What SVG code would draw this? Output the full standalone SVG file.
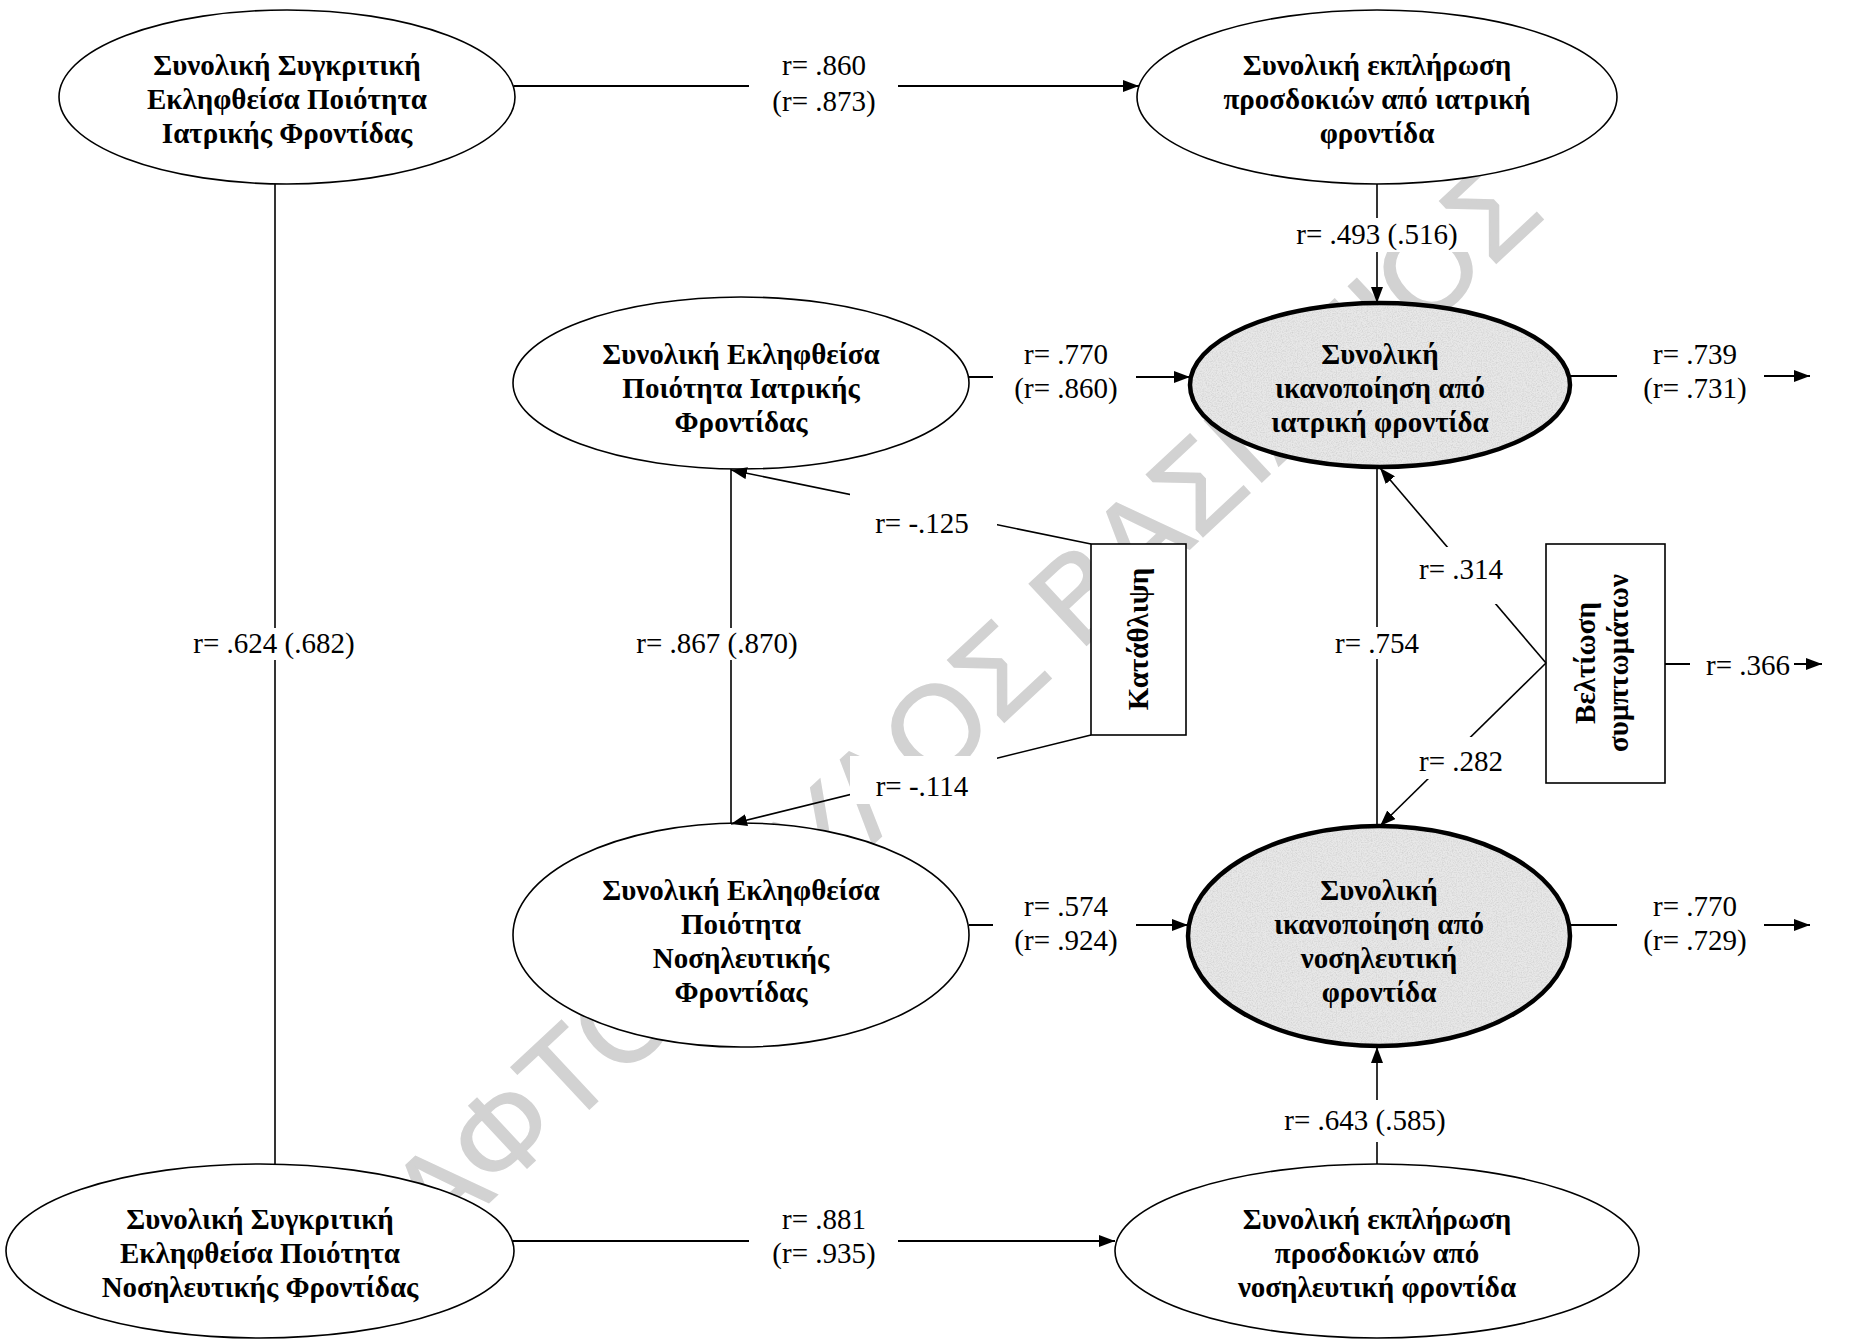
<svg xmlns="http://www.w3.org/2000/svg" width="1865" height="1343" viewBox="0 0 1865 1343">
<style>
.n{fill:#fff;stroke:#000;stroke-width:1.6}
.g{fill:#e8e8e8;stroke:none}
.gs{fill:none;stroke:#000;stroke-width:4.5}
.r{fill:#fff;stroke:#000;stroke-width:1.6}
.t{font-family:"Liberation Serif","Times New Roman",serif;font-weight:bold;font-size:29px;text-anchor:middle;fill:#000}
.l{font-family:"Liberation Serif","Times New Roman",serif;font-size:29px;text-anchor:middle;fill:#000}
.c{stroke:#000;stroke-width:1.6;fill:none}
.ch{stroke:#000;stroke-width:2.2;fill:none}
.lb{fill:#fff;stroke:none}
.wm{font-family:"Liberation Sans",Arial,sans-serif;font-size:122px;fill:#d2d2d2;stroke:#d2d2d2;stroke-width:1.5}
</style>
<defs>
<marker id="ah" viewBox="0 0 16 12" refX="16" refY="6" markerWidth="16" markerHeight="12" orient="auto" markerUnits="userSpaceOnUse">
<path d="M0,0 L16,6 L0,12 z" fill="#000"/>
</marker>
<filter id="grain" x="0" y="0" width="100%" height="100%">
<feTurbulence type="fractalNoise" baseFrequency="0.8" numOctaves="2" seed="5" result="noise"/>
<feColorMatrix in="noise" type="matrix" values="0 0 0 0 0.6  0 0 0 0 0.6  0 0 0 0 0.6  0 0 0 1.6 -0.6" result="dots"/>
<feComposite in="dots" in2="SourceGraphic" operator="in" result="d2"/>
<feMerge><feMergeNode in="SourceGraphic"/><feMergeNode in="d2"/></feMerge>
</filter>
</defs>
<rect x="0" y="0" width="1865" height="1343" fill="#fff"/>

<g id="watermark">
<text class="wm" transform="translate(438,1250) rotate(-43)">ΑΦΤΟΠΟΥΛΟΣ ΒΑΣΙΛΕΙΟΣ</text>
</g>

<g id="node-A">
<ellipse class="n" cx="287" cy="97" rx="228" ry="87"/>
<text class="t" x="287" y="75">Συνολική Συγκριτική</text>
<text class="t" x="287" y="109">Εκληφθείσα Ποιότητα</text>
<text class="t" x="287" y="143">Ιατρικής Φροντίδας</text>
</g>

<g id="node-B">
<ellipse class="n" cx="1377" cy="97" rx="240" ry="87"/>
<text class="t" x="1377" y="75">Συνολική εκπλήρωση</text>
<text class="t" x="1377" y="109">προσδοκιών από ιατρική</text>
<text class="t" x="1377" y="143">φροντίδα</text>
</g>

<g id="node-C">
<ellipse class="n" cx="741" cy="383" rx="228" ry="86"/>
<text class="t" x="741" y="364">Συνολική Εκληφθείσα</text>
<text class="t" x="741" y="398">Ποιότητα Ιατρικής</text>
<text class="t" x="741" y="432">Φροντίδας</text>
</g>

<g id="node-D">
<ellipse class="g" cx="1380" cy="385" rx="190" ry="82" filter="url(#grain)"/>
<ellipse class="gs" cx="1380" cy="385" rx="190" ry="82"/>
<text class="t" x="1380" y="364">Συνολική</text>
<text class="t" x="1380" y="398">ικανοποίηση από</text>
<text class="t" x="1380" y="432">ιατρική φροντίδα</text>
</g>

<g id="node-depression">
<rect class="r" x="1091" y="544" width="95" height="191"/>
<text class="t" transform="translate(1138,639) rotate(-90)" y="10">Κατάθλιψη</text>
</g>

<g id="node-symptoms">
<rect class="r" x="1546" y="544" width="119" height="239"/>
<text class="t" transform="translate(1585,663) rotate(-90)" y="10">Βελτίωση</text>
<text class="t" transform="translate(1618,663) rotate(-90)" y="10">συμπτωμάτων</text>
</g>

<g id="node-E">
<ellipse class="n" cx="741" cy="935" rx="228" ry="112"/>
<text class="t" x="741" y="900">Συνολική Εκληφθείσα</text>
<text class="t" x="741" y="934">Ποιότητα</text>
<text class="t" x="741" y="968">Νοσηλευτικής</text>
<text class="t" x="741" y="1002">Φροντίδας</text>
</g>

<g id="node-F">
<ellipse class="g" cx="1379" cy="936" rx="191" ry="110" filter="url(#grain)"/>
<ellipse class="gs" cx="1379" cy="936" rx="191" ry="110"/>
<text class="t" x="1379" y="900">Συνολική</text>
<text class="t" x="1379" y="934">ικανοποίηση από</text>
<text class="t" x="1379" y="968">νοσηλευτική</text>
<text class="t" x="1379" y="1002">φροντίδα</text>
</g>

<g id="node-G">
<ellipse class="n" cx="260" cy="1251" rx="254" ry="87"/>
<text class="t" x="260" y="1229">Συνολική Συγκριτική</text>
<text class="t" x="260" y="1263">Εκληφθείσα Ποιότητα</text>
<text class="t" x="260" y="1297">Νοσηλευτικής Φροντίδας</text>
</g>

<g id="node-H">
<ellipse class="n" cx="1377" cy="1251" rx="262" ry="87"/>
<text class="t" x="1377" y="1229">Συνολική εκπλήρωση</text>
<text class="t" x="1377" y="1263">προσδοκιών από</text>
<text class="t" x="1377" y="1297">νοσηλευτική φροντίδα</text>
</g>

<g id="connectors">
<line class="ch" x1="514" y1="86" x2="1139" y2="86" marker-end="url(#ah)"/>
<line class="c" x1="275" y1="184" x2="275" y2="1164"/>
<line class="c" x1="1377" y1="184" x2="1377" y2="303" marker-end="url(#ah)"/>
<line class="ch" x1="969" y1="377" x2="1190" y2="377" marker-end="url(#ah)"/>
<line class="ch" x1="1570" y1="376" x2="1810" y2="376" marker-end="url(#ah)"/>
<line class="c" x1="1091" y1="544" x2="731" y2="470" marker-end="url(#ah)"/>
<line class="c" x1="1091" y1="735" x2="731" y2="824" marker-end="url(#ah)"/>
<line class="c" x1="731" y1="469" x2="731" y2="823"/>
<line class="c" x1="1377" y1="467" x2="1377" y2="826"/>
<line class="c" x1="1546" y1="663" x2="1380" y2="468" marker-end="url(#ah)"/>
<line class="c" x1="1546" y1="663" x2="1380" y2="826" marker-end="url(#ah)"/>
<line class="ch" x1="1665" y1="664" x2="1822" y2="664" marker-end="url(#ah)"/>
<line class="ch" x1="969" y1="925" x2="1188" y2="925" marker-end="url(#ah)"/>
<line class="ch" x1="1570" y1="925" x2="1810" y2="925" marker-end="url(#ah)"/>
<line class="c" x1="1377" y1="1164" x2="1377" y2="1047" marker-end="url(#ah)"/>
<line class="ch" x1="513" y1="1241" x2="1115" y2="1241" marker-end="url(#ah)"/>

<rect class="lb" x="749" y="45" width="149" height="78"/>
<text class="l" x="824" y="75">r= .860</text>
<text class="l" x="824" y="111">(r= .873)</text>

<rect class="lb" x="188" y="628" width="174" height="32"/>
<text class="l" x="274" y="653">r= .624 (.682)</text>

<rect class="lb" x="1288" y="218" width="180" height="34"/>
<text class="l" x="1377" y="244">r= .493 (.516)</text>

<rect class="lb" x="993" y="335" width="143" height="72"/>
<text class="l" x="1066" y="364">r= .770</text>
<text class="l" x="1066" y="398">(r= .860)</text>

<rect class="lb" x="1617" y="335" width="147" height="72"/>
<text class="l" x="1695" y="364">r= .739</text>
<text class="l" x="1695" y="398">(r= .731)</text>

<rect class="lb" x="850" y="492" width="147" height="46"/>
<text class="l" x="922" y="533">r= -.125</text>

<rect class="lb" x="630" y="628" width="176" height="32"/>
<text class="l" x="717" y="653">r= .867 (.870)</text>

<rect class="lb" x="1318" y="627" width="119" height="32"/>
<text class="l" x="1377" y="653">r= .754</text>

<rect class="lb" x="1413" y="547" width="99" height="57"/>
<text class="l" x="1461" y="579">r= .314</text>

<rect class="lb" x="1413" y="737" width="99" height="42"/>
<text class="l" x="1461" y="771">r= .282</text>

<rect class="lb" x="1690" y="645" width="104" height="40"/>
<text class="l" x="1748" y="675">r= .366</text>

<rect class="lb" x="850" y="756" width="147" height="48"/>
<text class="l" x="922" y="796">r= -.114</text>

<rect class="lb" x="993" y="884" width="143" height="72"/>
<text class="l" x="1066" y="916">r= .574</text>
<text class="l" x="1066" y="950">(r= .924)</text>

<rect class="lb" x="1617" y="884" width="147" height="72"/>
<text class="l" x="1695" y="916">r= .770</text>
<text class="l" x="1695" y="950">(r= .729)</text>

<rect class="lb" x="1276" y="1100" width="180" height="42"/>
<text class="l" x="1365" y="1130">r= .643 (.585)</text>

<rect class="lb" x="749" y="1200" width="149" height="78"/>
<text class="l" x="824" y="1229">r= .881</text>
<text class="l" x="824" y="1263">(r= .935)</text>
</g>
</svg>
